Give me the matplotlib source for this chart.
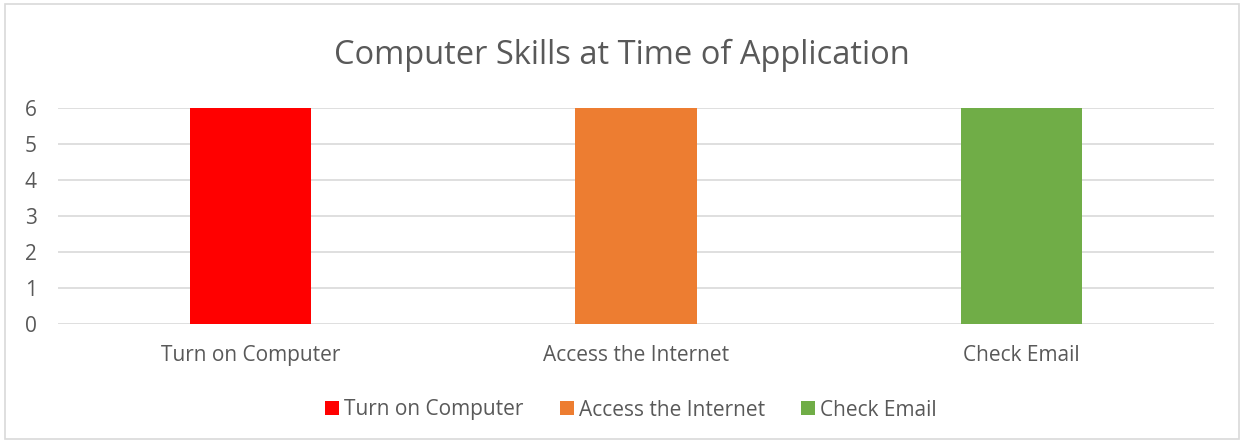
import matplotlib.pyplot as plt
from matplotlib.patches import Rectangle

categories = ["Turn on Computer", "Access the Internet", "Check Email"]
values = [6, 6, 6]
colors = ["#ff0000", "#ed7d31", "#70ad47"]

plt.rcParams['font.family'] = ['Open Sans', 'DejaVu Sans']
text_color = "#595959"

fig = plt.figure(figsize=(12.44, 4.43), dpi=100)
ax = fig.add_axes([58 / 1244, 1 - 324 / 443, 1156 / 1244, 216 / 443])

x = range(len(categories))
for i in x:
    ax.bar(i, values[i], width=0.315, color=colors[i], label=categories[i], zorder=3)

ax.set_xlim(-0.5, len(categories) - 0.5)
ax.set_ylim(0, 6)
ax.set_yticks(range(0, 7))
ax.set_xticks(list(x))
ax.set_xticklabels(categories)
ax.tick_params(axis='both', length=0, labelsize=15, colors=text_color)
ax.tick_params(axis='x', pad=15)
ax.tick_params(axis='y', pad=24)
for lbl in ax.get_yticklabels():
    lbl.set_horizontalalignment('left')
ax.grid(axis='y', color="#d9d9d9", linewidth=1.2, zorder=0)
for s in ax.spines.values():
    s.set_visible(False)

fig.suptitle("Computer Skills at Time of Application", y=1 - 55 / 443, va='center',
             fontsize=23.5, color=text_color)

leg = fig.legend(loc='center', bbox_to_anchor=(631 / 1244, 1 - 410 / 443), ncol=3,
                 frameon=False, fontsize=15, handlelength=0.67, handleheight=0.67,
                 handletextpad=0.25, columnspacing=1.73, labelcolor=text_color)

fig.patches.append(Rectangle((0.004, 0.008), 0.992, 0.984, transform=fig.transFigure,
                             fill=False, edgecolor="#d9d9d9", linewidth=1.2))

fig.savefig("out.png", dpi=100)
